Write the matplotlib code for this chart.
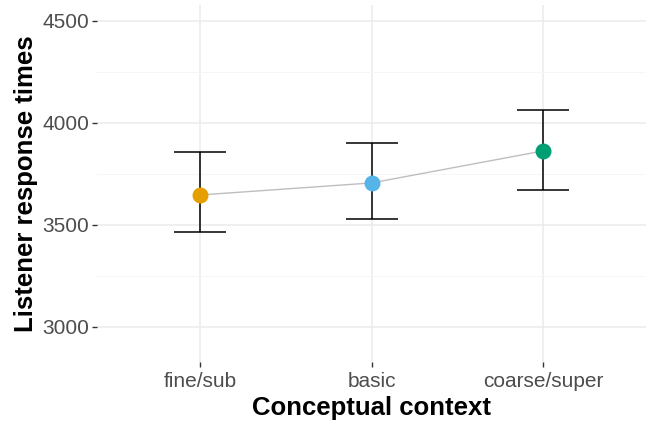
import matplotlib
matplotlib.use("Agg")
import numpy as np
from matplotlib import pyplot as plt
from matplotlib.ticker import MultipleLocator

categories = ["fine/sub", "basic", "coarse/super"]
means = [3647, 3706, 3863]
ci_low = [3466, 3527, 3672]
ci_high = [3858, 3902, 4066]
colors = ["#E69F00", "#56B4E9", "#009E73"]

plt.rcParams['font.family'] = ['Liberation Sans', 'DejaVu Sans']

fig = plt.figure(figsize=(6.47, 4.21), dpi=100)
ax = fig.add_axes([0.150, 0.140, 0.8485, 0.848])

x = np.arange(len(categories)) + 1
means_a = np.array(means)
yerr = [means_a - np.array(ci_low), np.array(ci_high) - means_a]

ax.plot(x, means, color="#BEBEBE", lw=1.0, zorder=2)
ax.errorbar(x, means, yerr=yerr, fmt="none", ecolor="black", elinewidth=1.1,
            capsize=18.5, capthick=1.1, zorder=3)
for xi, m, c in zip(x, means, colors):
    ax.plot(xi, m, "o", color=c, markersize=11.5, markeredgewidth=0, zorder=4)

ax.set_xlim(0.4, 3.6)
ax.set_ylim(2828, 4578)
ax.set_xticks(x)
ax.set_xticklabels(categories)
ax.yaxis.set_major_locator(MultipleLocator(500))
ax.yaxis.set_minor_locator(MultipleLocator(250))

ax.grid(which="major", color="#EBEBEB", lw=1.1, zorder=0)
ax.grid(which="minor", axis="y", color="#F5F5F5", lw=0.6, zorder=0)
ax.set_axisbelow(True)
for s in ax.spines.values():
    s.set_visible(False)

ax.tick_params(which="major", length=3.5, width=1.0, color="#333333",
               labelsize=15, labelcolor="#4D4D4D", pad=2)
ax.tick_params(axis="x", pad=4)
ax.tick_params(which="minor", length=0)

ax.set_xlabel("Conceptual context", fontsize=18.5, fontweight="bold", labelpad=3)
ax.set_ylabel("Listener response times", fontsize=18.5, fontweight="bold", labelpad=3)

fig.savefig("out.png", dpi=100)
